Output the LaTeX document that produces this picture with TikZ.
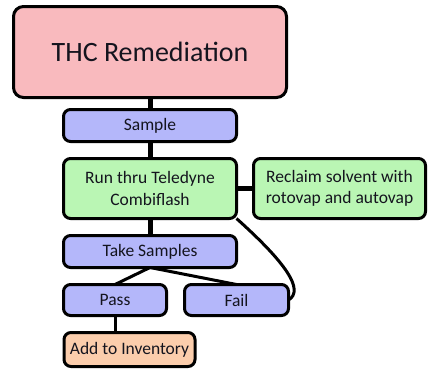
\documentclass[tikz,border=0pt]{standalone}
\usepackage{fontspec}
\setmainfont{Carlito}
\usetikzlibrary{backgrounds}
\definecolor{pinkf}{RGB}{249,186,190}
\definecolor{bluef}{RGB}{180,183,250}
\definecolor{greenf}{RGB}{186,246,180}
\definecolor{orangef}{RGB}{251,205,172}
\definecolor{txt}{RGB}{20,20,30}
\begin{document}
\begin{tikzpicture}[x=1pt,y=-1pt,
  box/.style={draw=black,line width=3pt,rounded corners=7pt,inner sep=0pt,outer sep=0pt,
    align=center,text=txt,font=\fontsize{17.5}{21.5}\selectfont},
  thickconn/.style={line width=5pt},
  thinconn/.style={line width=3pt}]
\useasboundingbox (0,0) rectangle (435,370);
\node[box,fill=pinkf,minimum width=273pt,minimum height=91pt,rounded corners=10pt,font=\fontsize{28}{32}\selectfont] (thc) at (150,52) {THC Remediation};
\node[box,fill=bluef,minimum width=173pt,minimum height=32pt] (sample) at (150,125.5) {Sample};
\node[box,fill=greenf,minimum width=173pt,minimum height=60pt] (run) at (150,188.5) {Run thru Teledyne\\Combiflash};
\node[box,fill=greenf,minimum width=172pt,minimum height=60pt] (reclaim) at (339.5,188.5) {Reclaim solvent with\\rotovap and autovap};
\node[box,fill=bluef,minimum width=173pt,minimum height=32pt] (take) at (150,251.5) {Take Samples};
\node[box,fill=bluef,minimum width=103pt,minimum height=31pt] (pass) at (115,300) {Pass};
\node[box,fill=bluef,minimum width=104pt,minimum height=31pt] (fail) at (236.5,300) {Fail};
\node[box,fill=orangef,minimum width=131pt,minimum height=34pt] (add) at (129.5,349.5) {Add to Inventory};
\begin{scope}[on background layer]
\draw[thickconn] (thc) -- (sample);
\draw[thickconn] (sample) -- (run);
\draw[thickconn] (run) -- (reclaim);
\draw[thickconn] (run) -- (take);
\draw[thinconn] (take.south) -- (pass.north);
\draw[thinconn] (take.south) -- (fail.north);
\draw[thinconn] (pass.south) -- (pass.south |- add.north);
\draw[thinconn] (run.south east) .. controls (285,262) and (305,290) .. (fail.east);
\end{scope}
\end{tikzpicture}
\end{document}
